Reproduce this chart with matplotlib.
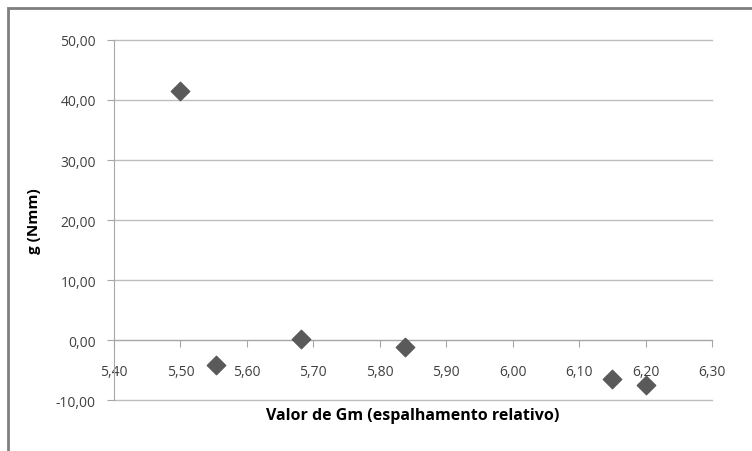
import matplotlib.pyplot as plt
from matplotlib.patches import Rectangle
from matplotlib.ticker import FuncFormatter

# data
gm_values = [5.50, 5.553, 5.681, 5.838, 6.149, 6.200]
g_values = [41.5, -4.2, 0.2, -1.2, -6.5, -7.5]

x_ticks = [5.40, 5.50, 5.60, 5.70, 5.80, 5.90, 6.00, 6.10, 6.20, 6.30]
y_ticks = [-10, 0, 10, 20, 30, 40, 50]

x_label = "Valor de Gm (espalhamento relativo)"
y_label = "g (Nmm)"

plt.rcParams["font.family"] = ["Open Sans", "DejaVu Sans"]


def comma_fmt(v, _pos=None):
    return f"{v:.2f}".replace(".", ",")


fig = plt.figure(figsize=(7.52, 4.52), dpi=100)
ax = fig.add_axes([0.1516, 0.1128, 0.7952, 0.7965])

# outer chart frame
fig.patches.append(Rectangle((8 / 752, -0.05), 1.2, 1 - 9 / 452 + 0.05,
                             transform=fig.transFigure, fill=False,
                             edgecolor="#7f7f7f", linewidth=2.0))

ax.scatter(gm_values, g_values, marker="D", s=95, color="#5a5a5a",
           edgecolors="#4a4a4a", linewidths=0.5, zorder=3, clip_on=False)

ax.set_xlim(x_ticks[0], x_ticks[-1])
ax.set_ylim(y_ticks[0], y_ticks[-1])
ax.set_xticks(x_ticks)
ax.set_yticks(y_ticks)
ax.xaxis.set_major_formatter(FuncFormatter(comma_fmt))
ax.yaxis.set_major_formatter(FuncFormatter(comma_fmt))

ax.grid(axis="y", color="#bdbdbd", linewidth=1.0)
for gl in ax.get_ygridlines():
    gl.set_clip_on(False)
ax.set_axisbelow(True)

for side in ["top", "right"]:
    ax.spines[side].set_visible(False)
ax.spines["bottom"].set_position(("data", 0))
ax.spines["bottom"].set_color("#a6a6a6")
ax.spines["left"].set_color("#a6a6a6")

ax.tick_params(axis="x", direction="out", length=5, color="#a6a6a6",
               labelsize=10, labelcolor="#404040", pad=12)
ax.tick_params(axis="y", direction="out", length=5, color="#a6a6a6",
               labelsize=10, labelcolor="#404040", pad=8)

ax.set_ylabel(y_label, fontsize=11, fontweight="bold")
ax.yaxis.set_label_coords(-0.122, 0.5)
ax.text(0.5, -0.02, x_label, transform=ax.transAxes, ha="center", va="top",
        fontsize=11.5, fontweight="bold")

fig.savefig("out.png", dpi=100, facecolor="white")
